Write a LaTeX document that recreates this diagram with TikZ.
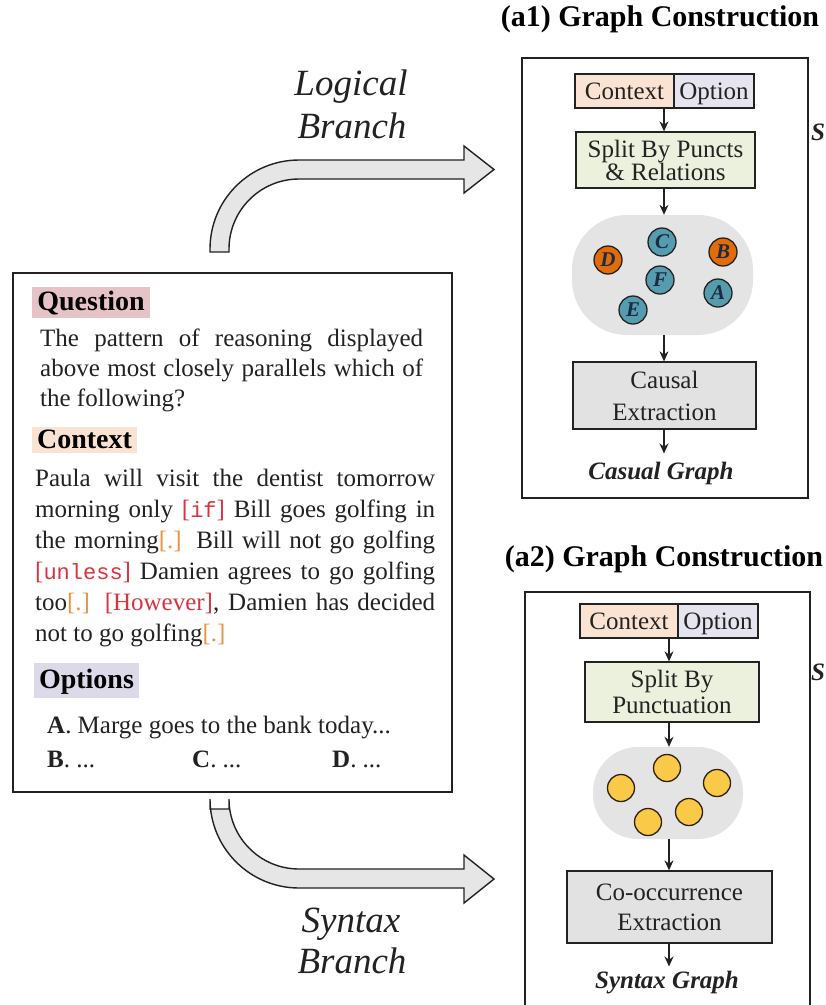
\documentclass[tikz,border=0pt]{standalone}
\usepackage{fontspec}
\setmainfont{Liberation Serif}
\setmonofont{Liberation Mono}
\usetikzlibrary{arrows.meta}

\definecolor{ink}{HTML}{222222}
\definecolor{qbg}{HTML}{E6C3C7}
\definecolor{cbg}{HTML}{FBE3D3}
\definecolor{obg}{HTML}{DCDAE8}
\definecolor{optbg}{HTML}{E5E4EF}
\definecolor{splitbg}{HTML}{EBF1DD}
\definecolor{blobgray}{HTML}{E4E4E4}
\definecolor{stepgray}{HTML}{E2E2E2}
\definecolor{nodeteal}{HTML}{559CAE}
\definecolor{nodeorange}{HTML}{E36C0A}
\definecolor{nodeyellow}{HTML}{F9C947}
\definecolor{letterink}{HTML}{1C2A44}
\definecolor{kwred}{HTML}{D8343F}
\definecolor{kworange}{HTML}{E9953F}
\definecolor{bigfill}{HTML}{E6E6E6}

% highlighted relation words and split punctuation in the context text
\newcommand{\kwtag}[1]{\textcolor{kwred}{[{\fontsize{22}{22}\selectfont\ttfamily #1}]}}
\newcommand{\puncttag}{\textcolor{kworange}{[.]}}

\begin{document}
\begin{tikzpicture}[x=1pt, y=-1pt,
  panel/.style={draw=ink, line width=1.8pt, inner sep=0pt},
  heading/.style={anchor=base, inner xsep=0pt, inner ysep=0pt,
    font=\bfseries\fontsize{28}{28}\selectfont, text=black},
  bodytext/.style={anchor=base west, inner sep=0pt,
    font=\fontsize{25}{30}\selectfont, text=ink},
  title/.style={anchor=base, inner sep=0pt,
    font=\bfseries\fontsize{30}{30}\selectfont, text=black},
  branchlabel/.style={anchor=base, inner sep=0pt,
    font=\itshape\fontsize{37}{37}\selectfont, text=ink},
  flowbox/.style={draw=ink, line width=1.3pt, inner sep=0pt, align=center,
    text=ink},
  inputbox/.style={flowbox, minimum height=34, text height=20, text depth=4,
    font=\fontsize{25}{25}\selectfont},
  blob/.style={fill=blobgray, inner sep=0pt},
  flowarrow/.style={-{Stealth[length=10pt,width=9pt]}, line width=1.2pt, draw=ink},
  gnode/.style={circle, draw=ink, line width=1.3pt, minimum size=28pt,
    inner sep=0pt, text=letterink,
    font=\bfseries\itshape\fontsize{21}{21}\selectfont},
  ynode/.style={circle, draw=black!75!brown, line width=1.3pt,
    minimum size=27pt, inner sep=0pt, fill=nodeyellow},
  result/.style={anchor=base, inner xsep=0pt,
    font=\bfseries\itshape\fontsize{25}{25}\selectfont, text=ink},
  bigarrow/.style={fill=bigfill, draw=ink, line width=1.4pt, line join=miter}
]
\useasboundingbox (0,0) rectangle (826,1005);
\fill[white] (0,0) rectangle (826,1005);
\clip (0,0) rectangle (826,1005);

% ---------------- question card ----------------
\node[panel, minimum width=439, minimum height=519] (qpanel) at (232.5,532.5) {};

\node[heading, fill=qbg, minimum width=118, text height=23, text depth=8] (hq) at (91,310) {Question};
\node[bodytext] (q1) at (40,346) {\makebox[383pt][s]{The pattern of reasoning displayed}};
\node[bodytext] (q2) at (40,376) {\makebox[383pt][s]{above most closely parallels which of}};
\node[bodytext] (q3) at (40,406) {the following?};

\node[heading, fill=cbg, minimum width=105, text height=21, text depth=5] (hc) at (84.5,448) {Context};
\node[bodytext] (c1) at (35,486) {\makebox[400pt][s]{Paula will visit the dentist tomorrow}};
\node[bodytext] (c2) at (35,517) {\makebox[400pt][s]{morning only \kwtag{if} Bill goes golfing in}};
\node[bodytext] (c3) at (35,548) {\makebox[400pt][s]{the morning\puncttag{} Bill will not go golfing}};
\node[bodytext] (c4) at (35,579) {\makebox[400pt][s]{\kwtag{unless} Damien agrees to go golfing}};
\node[bodytext] (c5) at (35,610) {\makebox[400pt][s]{too\puncttag{} \textcolor{kwred}{[However]}, Damien has decided}};
\node[bodytext] (c6) at (35,641) {not to go golfing\puncttag};

\node[heading, fill=obg, minimum width=105, text height=25, text depth=10] (ho) at (86.5,688) {Options};
\node[bodytext] (oa) at (47,733) {\textbf{A}. Marge goes to the bank today...};
\node[bodytext] (ob) at (47,767) {\textbf{B}. ...};
\node[bodytext] (oc) at (192,767) {\textbf{C}. ...};
\node[bodytext] (od) at (332,767) {\textbf{D}. ...};

% ---------------- branch arrows ----------------
\draw[bigarrow] (210,252) -- (210,249) arc[start angle=180, end angle=270, radius=89]
  -- (464,160) -- (464,146) -- (494,169.5) -- (464,193) -- (464,179) -- (299,179)
  arc[start angle=270, end angle=180, radius=70] -- (229,252) -- cycle;
\node[branchlabel] (lb1) at (351,95) {Logical};
\node[branchlabel] (lb2) at (352,138) {Branch};

\draw[bigarrow] (210,809) -- (210,799) arc[start angle=180, end angle=90, radius=89]
  -- (464,888) -- (464,903) -- (494,879) -- (464,855) -- (464,869) -- (299,869)
  arc[start angle=90, end angle=180, radius=70] -- (229,809) -- cycle;
\node[branchlabel] (sb1) at (351,932) {Syntax};
\node[branchlabel] (sb2) at (352,973) {Branch};

% ---------------- (a1) logical graph construction ----------------
\node[title] (t1) at (660,26) {(a1) Graph Construction};
\node[panel, minimum width=286, minimum height=440] (p1) at (665,278) {};
\coordinate (ax1) at (664,0);

\node[inputbox, fill=cbg, minimum width=99] (ctx1) at (624.5,91) {Context};
\node[inputbox, fill=optbg, minimum width=80] (opt1) at (714,91) {Option};
\node[flowbox, fill=splitbg, minimum width=179, minimum height=56,
  font=\fontsize{25}{23}\selectfont] (split1) at (665.5,160) {Split By Puncts\\\& Relations};
\node[blob, minimum width=181, minimum height=120, rounded corners=55pt] (blob1) at (662.5,275) {};
\node[flowbox, fill=stepgray, minimum width=183, minimum height=67,
  font=\fontsize{25}{32}\selectfont] (causal1) at (664.5,395.5) {Causal\\Extraction};
\node[result, inner ysep=8pt] (graph1) at (661,479) {Casual Graph};

\node[gnode, fill=nodeteal] (nc) at (662,242) {C};
\node[gnode, fill=nodeorange] (nd) at (608,260) {D};
\node[gnode, fill=nodeorange] (nb) at (723,252) {B};
\node[gnode, fill=nodeteal] (nf) at (660,280) {F};
\node[gnode, fill=nodeteal] (na) at (718,293) {A};
\node[gnode, fill=nodeteal] (ne) at (633,310) {E};

\draw[flowarrow] (ax1 |- ctx1.south) -- (ax1 |- split1.north);
\draw[flowarrow] (ax1 |- split1.south) -- (ax1 |- blob1.north);
\draw[flowarrow] (ax1 |- blob1.south) -- (ax1 |- causal1.north);
\draw[flowarrow] (ax1 |- causal1.south) -- (ax1 |- graph1.north);

\node[anchor=base west, inner sep=0pt, text=ink,
  font=\bfseries\itshape\fontsize{25}{25}\selectfont] (s1) at (811,140) {S};

% ---------------- (a2) syntax graph construction ----------------
\node[title] (t2) at (664,566) {(a2) Graph Construction};
\node[panel, minimum width=285, minimum height=428] (p2) at (667.5,806) {};
\coordinate (ax2) at (669,0);

\node[inputbox, fill=cbg, minimum width=98] (ctx2) at (629,621) {Context};
\node[inputbox, fill=optbg, minimum width=80] (opt2) at (718,621) {Option};
\node[flowbox, fill=splitbg, minimum width=174, minimum height=60,
  font=\fontsize{25}{26}\selectfont] (split2) at (672,692) {Split By\\Punctuation};
\node[blob, minimum width=150, minimum height=92, rounded corners=45pt] (blob2) at (668,793) {};
\node[flowbox, fill=stepgray, minimum width=205, minimum height=72,
  font=\fontsize{25}{30}\selectfont] (cooc2) at (669.5,907) {Co-occurrence\\Extraction};
\node[result, inner ysep=4pt] (graph2) at (667,988) {Syntax Graph};

\node[ynode] (y1) at (667,768) {};
\node[ynode] (y2) at (621,788) {};
\node[ynode] (y3) at (717,783) {};
\node[ynode] (y4) at (689,812) {};
\node[ynode] (y5) at (648,822) {};

\draw[flowarrow] (ax2 |- ctx2.south) -- (ax2 |- split2.north);
\draw[flowarrow] (ax2 |- split2.south) -- (ax2 |- blob2.north);
\draw[flowarrow] (ax2 |- blob2.south) -- (ax2 |- cooc2.north);
\draw[flowarrow] (ax2 |- cooc2.south) -- (ax2 |- graph2.north);

\node[anchor=base west, inner sep=0pt, text=ink,
  font=\bfseries\itshape\fontsize{25}{25}\selectfont] (s2) at (811,680) {S};
\end{tikzpicture}
\end{document}
